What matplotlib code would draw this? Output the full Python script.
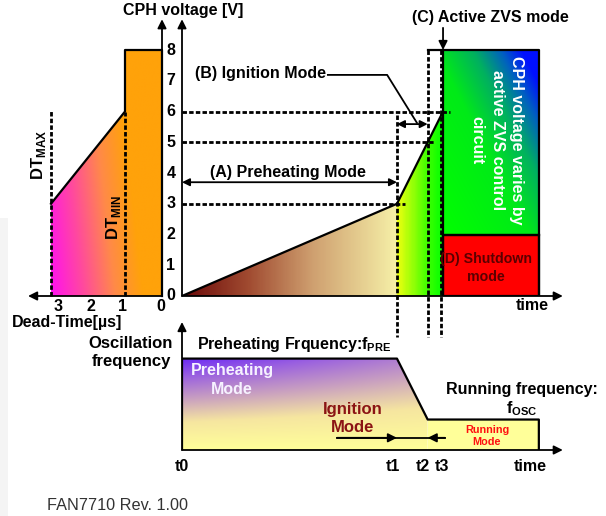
import numpy as np
import matplotlib.pyplot as plt
from matplotlib.colors import LinearSegmentedColormap
from matplotlib.patches import Polygon, Rectangle

plt.rcParams['font.family'] = ['Liberation Sans', 'DejaVu Sans']
plt.rcParams['font.weight'] = 'bold'
plt.rcParams['mathtext.fontset'] = 'custom'
plt.rcParams['mathtext.rm'] = 'Liberation Sans:bold'
plt.rcParams['mathtext.bf'] = 'Liberation Sans:bold'

# --- data ---
volt_ticks = [0, 1, 2, 3, 4, 5, 6, 7, 8]
dt_ticks = [3, 2, 1, 0]
dt_tick_shift = [-0.2, -0.08, 0.07, 0.03]

# dead-time vs CPH voltage (left panel)
dt_shape = [3, 3, 1, 1, 0, 0]
v_shape = [0, 3, 6, 8, 8, 0]
dt_max, dt_min = 3, 1

# CPH voltage vs time (top panel)
t0, t1, t2, t3 = 0.0, 7.0, 8.0, 8.5
t_end = 11.62
cph_t = [t0, t1, t2, t3]
cph_v = [0, 3, 5, 6]
v_top = 8
v_shutdown = 2
guide_v = [6, 5, 3]
guide_end = [8.73, 8.2, 7.26]

# oscillation frequency vs time (bottom panel)
f_pre, f_osc = 3.0, 1.0
freq_t = [t0, t1, t2, t_end]
freq_f = [f_pre, f_pre, f_osc, f_osc]

T_MAX = 12.4
V_MAX = 9.0
DT_LIM = 3.62
F_MAX = 4.2
FS = 11.5

# --- figure / axes ---
W, H = 606, 516
fig = plt.figure(figsize=(W / 100, H / 100), dpi=100)
fig.patch.set_facecolor('white')

def px_axes(x0, y0, x1, y1):
    # axes box from pixel corners (top-left origin)
    return fig.add_axes([x0 / W, 1 - y1 / H, (x1 - x0) / W, (y1 - y0) / H])

ax_dt = px_axes(162 - DT_LIM * 37, 296 - V_MAX * 30.75, 162, 296)
ax_v = px_axes(182, 296 - V_MAX * 30.75, 182 + T_MAX * 30.71, 296)
ax_f = px_axes(182, 450 - F_MAX * 30.47, 182 + T_MAX * 30.71, 450)
for a in (ax_dt, ax_v, ax_f):
    a.axis('off')

# light gray band at the left border
fig.patches.append(Rectangle((0, 0), 8 / W, 1 - 218 / H, transform=fig.transFigure,
                             facecolor='#f4f4f4', edgecolor='none', zorder=-5))

LW = 1.6
dash = dict(color='k', lw=2.0, ls=(0, (1.6, 0.8)), clip_on=False)
arrow = dict(arrowstyle='-|>', color='k', lw=1.3, mutation_scale=13, shrinkA=0, shrinkB=0)
darrow = dict(arrowstyle='<|-|>', color='k', lw=1.3, mutation_scale=11, shrinkA=0, shrinkB=0)


def grad_fill(ax, extent, verts, func, cmap, z=1):
    x0, x1, y0, y1 = extent
    X, Y = np.meshgrid(np.linspace(x0, x1, 300), np.linspace(y0, y1, 300))
    S = np.clip(func(X, Y), 0, 1)
    im = ax.imshow(S, extent=extent, origin='lower', cmap=cmap, vmin=0, vmax=1,
                   aspect='auto', interpolation='bilinear', zorder=z)
    poly = Polygon(verts, closed=True, facecolor='none', edgecolor='none')
    ax.add_patch(poly)
    im.set_clip_path(poly)


# --- left panel: dead time ---
cm_dt = LinearSegmentedColormap.from_list('dt', [(0, '#ff10f0'), (0.35, '#ff48a0'),
                                                 (0.7, '#ff8a48'), (1, '#ffa20a')])
grad_fill(ax_dt, (0, 3, 0, 8), list(zip(dt_shape, v_shape)),
          lambda X, Y: (3 - X) / 2 * 0.8 + Y / 8 * 0.3, cm_dt)
ax_dt.plot(dt_shape[1:], v_shape[1:], color='k', lw=LW, zorder=3, clip_on=False)
ax_dt.plot([dt_max, dt_max], [0, 6.05], **dash, zorder=4)
ax_dt.plot([dt_min, dt_min], [0, 6.0], **dash, zorder=4)
ax_dt.annotate('', xy=(0, V_MAX), xytext=(0, 0), arrowprops=arrow, annotation_clip=False)
ax_dt.annotate('', xy=(DT_LIM, 0), xytext=(0, 0), arrowprops=arrow, annotation_clip=False)
for d, s in zip(dt_ticks, dt_tick_shift):
    ax_dt.text(d + s, -0.33, str(d), ha='center', va='center', fontsize=FS)
ax_dt.text(4.05, -0.85, 'Dead-Time[µs]', ha='left', va='center', fontsize=FS)
ax_dt.text(3.35, 4.6, r'DT$_{\mathrm{MAX}}$', rotation=90, ha='center', va='center', fontsize=12)
ax_dt.text(1.3, 2.55, r'DT$_{\mathrm{MIN}}$', rotation=90, ha='center', va='center', fontsize=12)
ax_dt.set_xlim(DT_LIM, 0)
ax_dt.set_ylim(0, V_MAX)

# --- top panel: CPH voltage ---
cm_ramp = LinearSegmentedColormap.from_list('ramp', [
    (0, '#6a0808'), (0.25, '#a04a30'), (0.5, '#cfa070'), (t1 / t3 - 0.001, '#f6f0a8'),
    (t1 / t3, '#f0ff10'), (t2 / t3, '#40ff00'), (1, '#00ff00')])
ramp_verts = list(zip(cph_t, cph_v)) + [(t3, 0)]
grad_fill(ax_v, (0, t3, 0, 6), ramp_verts, lambda X, Y: X / t3, cm_ramp)

cm_box = LinearSegmentedColormap.from_list('box', [(0, '#00ff00'), (0.5, '#00ea18'),
                                                   (0.72, '#00b060'), (0.88, '#0060c0'),
                                                   (1, '#0010ff')])
box_verts = [(t3, v_shutdown), (t3, v_top), (t_end, v_top), (t_end, v_shutdown)]
grad_fill(ax_v, (t3, t_end, v_shutdown, v_top), box_verts,
          lambda X, Y: (X - t3) / (t_end - t3) * 0.55 + (Y - v_shutdown) / 6 * 0.55, cm_box)
ax_v.add_patch(Rectangle((t3, 0), t_end - t3, v_shutdown, facecolor='#ff0000',
                         edgecolor='k', lw=LW, zorder=2))

ax_v.plot(cph_t, cph_v, color='k', lw=LW, zorder=3)
ax_v.plot([t2, t_end, t_end], [v_top, v_top, 0], color='k', lw=LW, zorder=3)
ax_v.plot([t3, t3], [0, v_top], color='k', lw=LW, zorder=3)
ax_v.plot([t3, t_end], [v_shutdown, v_shutdown], color='k', lw=LW, zorder=3)

for v, e in zip(guide_v, guide_end):
    ax_v.plot([0, e], [v, v], **dash, zorder=4)

# vertical guides down to the frequency panel
v_bottom = ax_v.transData.inverted().transform(ax_f.transData.transform((0, 0)))[1]
ax_v.plot([t1, t1], [5.9, v_bottom], **dash, zorder=4)
ax_v.plot([t2, t2], [v_top, v_bottom], **dash, zorder=4)
ax_v.plot([t3 - 0.07, t3 - 0.07], [v_top, v_bottom], **dash, zorder=4)

ax_v.annotate('', xy=(0, V_MAX), xytext=(0, 0), arrowprops=arrow, annotation_clip=False)
ax_v.annotate('', xy=(T_MAX, 0), xytext=(0, 0), arrowprops=arrow, annotation_clip=False)
for v in volt_ticks:
    ax_v.text(-0.36, v, str(v), ha='center', va='center', fontsize=FS)
ax_v.text(0.05, 9.3, 'CPH voltage [V]', ha='center', va='center', fontsize=FS)
ax_v.text(11.4, -0.3, 'time', ha='center', va='center', fontsize=FS)

ax_v.text(3.45, 4.03, '(A) Preheating Mode', ha='center', va='center', fontsize=FS)
ax_v.annotate('', xy=(t1, 3.7), xytext=(0, 3.7), arrowprops=darrow)
ax_v.text(2.54, 7.25, '(B) Ignition Mode', ha='center', va='center', fontsize=FS)
ax_v.plot([4.75, 6.68, 7.65], [7.19, 7.19, 5.63], color='k', lw=1.3)
ax_v.annotate('', xy=(t2, 5.59), xytext=(t1, 5.59), arrowprops=darrow)
ax_v.text(10.03, 9.07, '(C) Active ZVS mode', ha='center', va='center', fontsize=FS)
ax_v.annotate('', xy=(t3, v_top), xytext=(t3, 8.72), arrowprops=arrow, annotation_clip=False)
ax_v.text(10.26, 5.07, 'CPH voltage varies by\nactive ZVS control\ncircuit', rotation=-90,
          ha='center', va='center', multialignment='center', color='white', fontsize=FS,
          linespacing=1.4, zorder=5)
ax_v.text(9.9, 0.92, '(D) Shutdown\nmode', ha='center', va='center', color='#5a0000',
          fontsize=10.2, linespacing=1.4, zorder=5)
ax_v.set_xlim(0, T_MAX)
ax_v.set_ylim(0, V_MAX)

# --- bottom panel: oscillation frequency ---
cm_f = LinearSegmentedColormap.from_list('freq', [(0, '#ffff99'), (0.3, '#f6e6a0'),
                                                  (0.55, '#c9a0c0'), (0.8, '#9a60e0'),
                                                  (1, '#6a28f5')])
freq_verts = [(t0, 0)] + list(zip(freq_t[:3], freq_f[:3])) + [(t2, 0)]
grad_fill(ax_f, (0, t2, 0, f_pre), freq_verts,
          lambda X, Y: Y / f_pre * (1 - 0.3 * X / t1), cm_f)
ax_f.add_patch(Rectangle((t2, 0), t_end - t2, f_osc, facecolor='#ffff99',
                         edgecolor='none', zorder=1))
ax_f.plot([t0] + freq_t + [t_end], [0] + freq_f + [0], color='k', lw=LW, zorder=3)
ax_f.annotate('', xy=(0, F_MAX), xytext=(0, 0), arrowprops=arrow, annotation_clip=False)
ax_f.annotate('', xy=(T_MAX, 0), xytext=(0, 0), arrowprops=arrow, annotation_clip=False)

ax_f.plot([5.05, 8.56], [0.4, 0.4], color='k', lw=1.3, zorder=4)
ax_f.annotate('', xy=(t1, 0.4), xytext=(5.05, 0.4), arrowprops=arrow)
ax_f.annotate('', xy=(t2, 0.4), xytext=(8.56, 0.4), arrowprops=arrow)

ax_f.text(-1.66, 3.2, 'Oscillation\nfrequency', ha='center', va='center', fontsize=12,
          linespacing=1.3)
ax_f.text(0.49, 3.45, r'Preheating Frquency:f$_{\mathrm{PRE}}$', ha='left', va='center',
          fontsize=FS)
ax_f.text(1.63, 2.3, 'Preheating\nMode', ha='center', va='center', color='#f6f2ff',
          fontsize=FS, linespacing=1.4, zorder=5)
ax_f.text(5.57, 1.03, 'Ignition\nMode', ha='center', va='center', color='#8b1414',
          fontsize=12, linespacing=1.2, zorder=5)
ax_f.text(11.07, 1.63, 'Running frequency:\n' + r'f$_{\mathrm{OSC}}$', ha='center',
          va='center', fontsize=FS, linespacing=1.15)
ax_f.text(9.93, 0.46, 'Running\nMode', ha='center', va='center', color='#ff1010',
          fontsize=7.8, linespacing=1.2, zorder=5)
for lab, t, s in zip(['t0', 't1', 't2', 't3'], [t0, t1, t2, t3], [0, -0.13, -0.15, -0.05]):
    ax_f.text(t + s, -0.53, lab, ha='center', va='center', fontsize=FS)
ax_f.text(11.33, -0.53, 'time', ha='center', va='center', fontsize=FS)
ax_f.set_xlim(0, T_MAX)
ax_f.set_ylim(0, F_MAX)

fig.text(47 / W, 1 - 505 / H, 'FAN7710 Rev. 1.00', ha='left', va='center',
         fontsize=11.7, fontweight='normal', color='#333333')

fig.savefig('out.png', dpi=100)
